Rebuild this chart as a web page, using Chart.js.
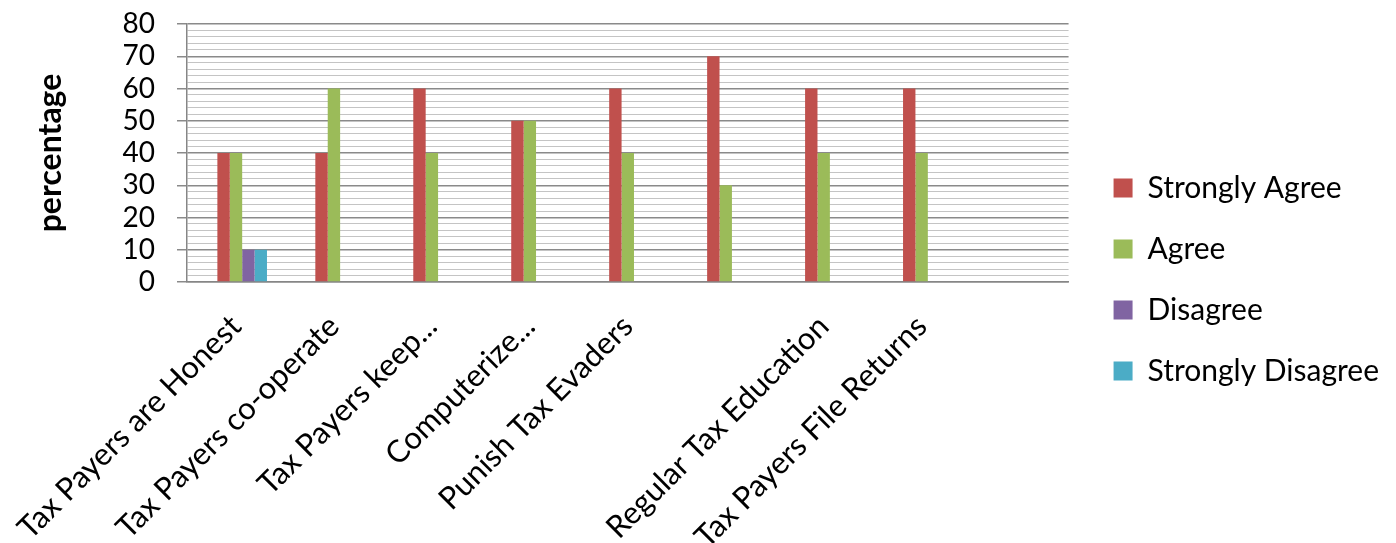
<!DOCTYPE html>
<html>
<head>
<meta charset="utf-8">
<script src="https://cdn.jsdelivr.net/npm/chart.js@4.4.1/dist/chart.umd.min.js"></script>
<style>
  html, body { margin: 0; padding: 0; background: #ffffff; }
  #wrap { width: 1396px; height: 543px; position: relative; }
</style>
</head>
<body>
<div id="wrap"><canvas id="c" width="1396" height="543"></canvas></div>
<script>
// ---- data ----
const categories = [
  'Tax Payers are Honest',
  'Tax Payers co-operate',
  'Tax Payers keep...',
  'Computerize...',
  'Punish Tax Evaders',
  '',
  'Regular Tax Education',
  'Tax Payers File Returns',
  ''
];
const blankSeries      = [null, null, null, null, null, null, null, null, null];
const stronglyAgree    = [40, 40, 60, 50, 60, 70, 60, 60, null];
const agree            = [40, 60, 40, 50, 40, 30, 40, 40, null];
const disagree         = [10, null, null, null, null, null, null, null, null];
const stronglyDisagree = [10, null, null, null, null, null, null, null, null];
const yTickLabels = [0, 10, 20, 30, 40, 50, 60, 70, 80];

const FONT = 'Lato';
const majorColor = '#8a8a8a';
const minorColor = '#c4c4c4';

// nudges the right-hand legend a little away from the plot area
const legendGap = {
  id: 'legendGap',
  afterLayout(chart) {
    const lg = chart.legend;
    if (lg) { lg.left += 14; lg.right += 14; lg.top -= 4; lg.bottom -= 4; }
  }
};

const chart = new Chart(document.getElementById('c'), {
  type: 'bar',
  plugins: [legendGap],
  data: {
    labels: categories,
    datasets: [
      { label: '', data: blankSeries, backgroundColor: '#ffffff' },
      { label: 'Strongly Agree', data: stronglyAgree, backgroundColor: '#C0504D' },
      { label: 'Agree', data: agree, backgroundColor: '#9BBB59' },
      { label: 'Disagree', data: disagree, backgroundColor: '#8064A2' },
      { label: 'Strongly Disagree', data: stronglyDisagree, backgroundColor: '#4BACC6' }
    ]
  },
  options: {
    responsive: false,
    animation: false,
    devicePixelRatio: 1,
    categoryPercentage: 0.633,
    barPercentage: 1.0,
    layout: { padding: { left: 0, right: 21, top: 24, bottom: 0 } },
    plugins: {
      tooltip: { enabled: false },
      legend: {
        position: 'right',
        labels: {
          filter: (item) => item.datasetIndex !== 0,
          boxWidth: 19,
          boxHeight: 19,
          padding: 31,
          color: '#000000',
          font: { family: FONT, size: 30 }
        }
      }
    },
    scales: {
      x: {
        grid: { display: false, drawTicks: false },
        border: { display: true, color: '#868686', width: 1.5 },
        ticks: {
          autoSkip: false,
          maxRotation: 45,
          minRotation: 45,
          padding: 26,
          color: '#000000',
          font: { family: FONT, size: 31 }
        },
        afterFit: (s) => { s.height = 261; s.paddingLeft = 0; s.paddingRight = 0; }
      },
      y: {
        min: 0,
        max: 80,
        border: { display: true, color: '#868686', width: 1.5 },
        grid: {
          drawTicks: true,
          tickLength: 10,
          color: (ctx) => (ctx.tick && yTickLabels.includes(ctx.tick.value)) ? majorColor : minorColor,
          lineWidth: (ctx) => (ctx.tick && yTickLabels.includes(ctx.tick.value)) ? 1.5 : 1,
          tickColor: (ctx) => (ctx.tick && yTickLabels.includes(ctx.tick.value)) ? majorColor : 'rgba(0,0,0,0)'
        },
        ticks: {
          stepSize: 2,
          autoSkip: false,
          maxTicksLimit: 100,
          padding: 22,
          color: '#000000',
          font: { family: FONT, size: 28 },
          callback: (v) => yTickLabels.includes(v) ? String(v) : ''
        },
        title: {
          display: true,
          text: 'percentage',
          color: '#000000',
          font: { family: FONT, size: 32, weight: 'bold' },
          padding: { top: 31, bottom: 0 }
        },
        afterFit: (s) => { s.width = 187; s.paddingTop = 0; s.paddingBottom = 0; }
      }
    }
  }
});
</script>
</body>
</html>
